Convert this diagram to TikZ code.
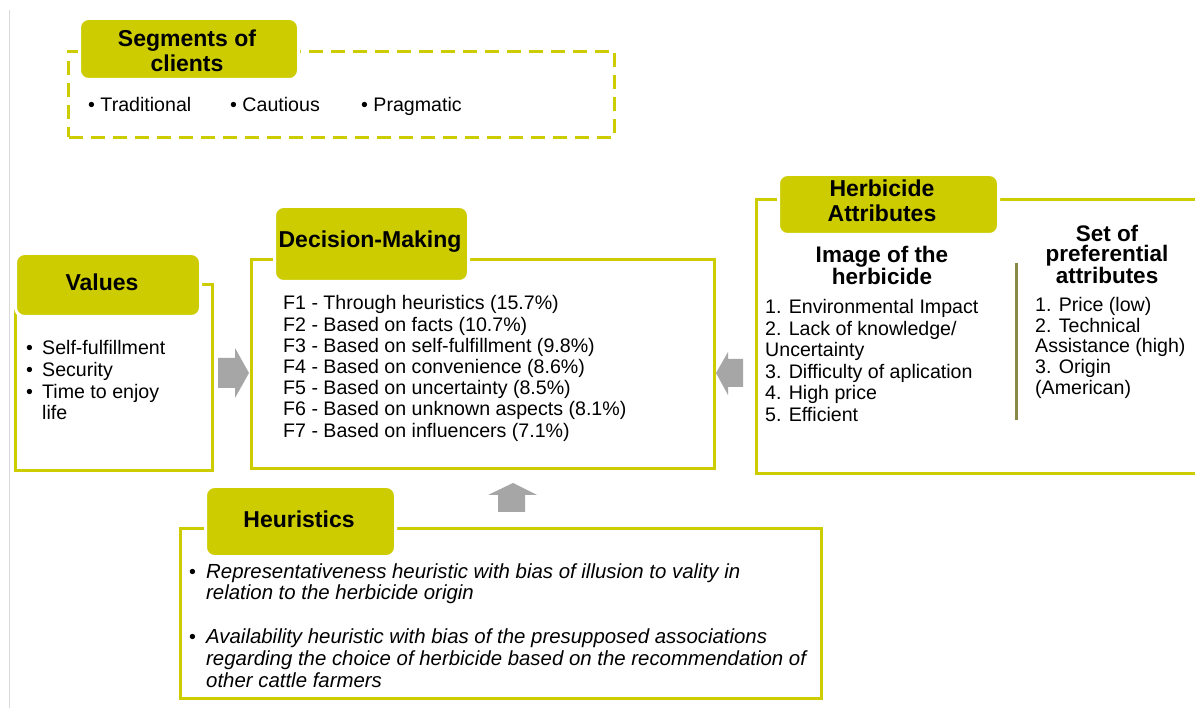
\documentclass[tikz,border=0pt]{standalone}
\usepackage{fontspec}
\setmainfont{Liberation Sans}
\definecolor{ylw}{HTML}{CCCC00}
\definecolor{arrc}{HTML}{A6A6A6}
\definecolor{divc}{HTML}{8A8A48}
\definecolor{edgec}{HTML}{D9D9D9}
\begin{document}
\begin{tikzpicture}[x=1pt,y=-1pt,
  frame/.style={draw=ylw, line width=3pt, inner sep=0pt, anchor=north west},
  dframe/.style={frame, dash pattern=on 14pt off 8pt},
  tab/.style={fill=ylw, draw=white, line width=3pt, rounded corners=9pt, inner sep=0pt, anchor=north west},
  ttl/.style={font=\bfseries\fontsize{23}{25}\selectfont, align=center, inner sep=0pt},
  body/.style={font=\fontsize{19.6}{21.5}\selectfont, inner sep=0pt, anchor=base west},
  itbody/.style={font=\itshape\fontsize{20.4}{21.5}\selectfont, inner sep=0pt, anchor=base west},
  blockarrow/.style={fill=arrc, draw=none}
]
\useasboundingbox (0,0) rectangle (1195,708);
\fill[white] (0,0) rectangle (1195,708);
% left page edge line
\draw[edgec, line width=1pt] (9,10) -- (9,708);

% ---------------- Segments of clients ----------------
\node[dframe, minimum width=546pt, minimum height=86pt] (segbox) at (67,50) {};
\node[tab, minimum width=219pt, minimum height=61pt] (segtab) at (78,17) {};
\node[ttl] (segttl) at (187,50.5) {Segments of\\clients};
\node[body] (segb1) at (88,112) {• Traditional};
\node[body] (segb2) at (230,112) {• Cautious};
\node[body] (segb3) at (361,112) {• Pragmatic};

% ---------------- Values ----------------
\node[frame, minimum width=197pt, minimum height=186pt] (valbox) at (14,283) {};
\node[tab, minimum width=185pt, minimum height=63pt] (valtab) at (14,252) {};
\node[ttl] (valttl) at (102,282) {Values};
\foreach \t/\y [count=\i] in {Self-fulfillment/355, Security/377, Time to enjoy/399}{
  \node[body] (valbul\i) at (26,\y) {•};
  \node[body] (valtxt\i) at (42,\y) {\t};
}
\node[body] (valtxt4) at (42,420) {life};

% ---------------- Decision-Making ----------------
\node[frame, minimum width=463pt, minimum height=209pt] (dmbox) at (250,258) {};
\node[tab, minimum width=194pt, minimum height=75pt] (dmtab) at (273,205) {};
\node[ttl] (dmttl) at (370,242) {Decision-Making};
\foreach \t [count=\i] in {
  F1 - Through heuristics (15.7\%),
  F2 - Based on facts (10.7\%),
  F3 - Based on self-fulfillment (9.8\%),
  F4 - Based on convenience (8.6\%),
  F5 - Based on uncertainty (8.5\%),
  F6 - Based on unknown aspects (8.1\%),
  F7 - Based on influencers (7.1\%)}{
  \node[body] (dm\i) at (283,{310+21.2*(\i-1)}) {\t};
}

% ---------------- Herbicide Attributes ----------------
\node[frame, minimum width=450pt, minimum height=274pt] (habox) at (755,198) {};
\node[tab, minimum width=220pt, minimum height=60pt] (hatab) at (777,173) {};
\node[ttl] (hattl) at (882,200.5) {Herbicide\\Attributes};
\node[ttl, font=\bfseries\fontsize{22.5}{19}\selectfont] (imgttl) at (882,265) {Image of the\\herbicide};
\node[ttl, font=\bfseries\fontsize{22.5}{20}\selectfont] (prefttl) at (1107,254) {Set of\\preferential\\attributes};
\foreach \t/\y [count=\i] in {1. Environmental Impact/314, 2. Lack of knowledge\slash/336, Uncertainty/357, 3. Difficulty of aplication/379, 4. High price/400, 5. Efficient/422}{
  \node[body] (img\i) at (765,\y) {\t};
}
\foreach \t/\y [count=\i] in {1. Price (low)/312, 2. Technical/333, Assistance (high)/353, 3. Origin/374, (American)/395}{
  \node[body] (pref\i) at (1035,\y) {\t};
}
\coordinate (divtop) at (1016,263);
\coordinate (divbot) at (1016,420);
\draw[divc, line width=3pt] (divtop) -- (divbot);

% ---------------- Heuristics ----------------
\node[frame, minimum width=641pt, minimum height=170pt] (heubox) at (179,527) {};
\node[tab, minimum width=190pt, minimum height=70pt] (heutab) at (204,485) {};
\node[ttl] (heuttl) at (299,519) {Heuristics};
\node[body] (heubul1) at (189,578) {•};
\node[itbody] (heu1) at (206,578) {Representativeness heuristic with bias of illusion to vality in};
\node[itbody] (heu2) at (206,599) {relation to the herbicide origin};
\node[body] (heubul2) at (189,643) {•};
\node[itbody] (heu3) at (206,643) {Availability heuristic with bias of the presupposed associations};
\node[itbody] (heu4) at (206,665) {regarding the choice of herbicide based on the recommendation of};
\node[itbody] (heu5) at (206,687) {other cattle farmers};

% ---------------- block arrows ----------------
% Values -> Decision-Making
\fill[blockarrow] (218,358) -- (235,358) -- (235,348) -- (249,373) -- (235,398) -- (235,388) -- (218,388) -- cycle;
% Herbicide Attributes -> Decision-Making
\fill[blockarrow] (743,359) -- (728,359) -- (728,352) -- (716,373) -- (728,395) -- (728,387) -- (743,387) -- cycle;
% Heuristics -> Decision-Making
\fill[blockarrow] (498,512) -- (498,495) -- (488,495) -- (513,483) -- (537,495) -- (525,495) -- (525,512) -- cycle;
\end{tikzpicture}
\end{document}
